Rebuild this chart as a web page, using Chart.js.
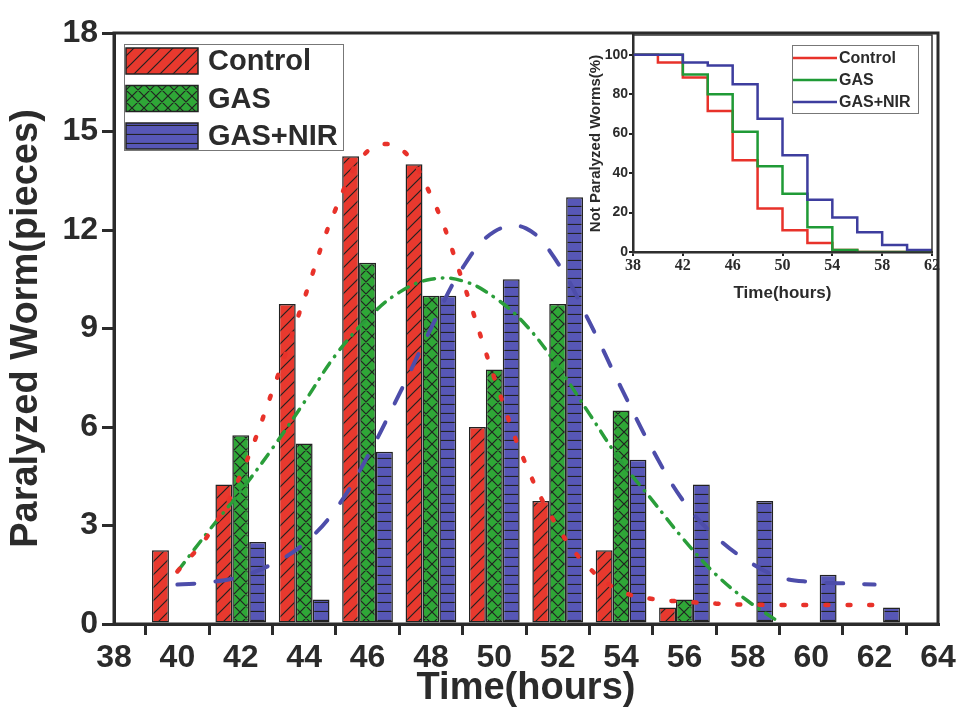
<!DOCTYPE html>
<html>
<head>
<meta charset="utf-8">
<title>Paralyzed worms</title>
<script src="https://cdn.jsdelivr.net/npm/chart.js@4.4.0/dist/chart.umd.min.js"></script>
<style>
    body { margin: 0; background: #fff; }
    #wrap { position: relative; width: 963px; height: 708px; }
    #mainChart { position: absolute; left: 0; top: 0; }
    #insetChart { position: absolute; left: 570px; top: 20px; }
</style>
</head>
<body>
<div id="wrap">
    <canvas id="mainChart" width="963" height="708"></canvas>
    <canvas id="insetChart" width="372" height="282"></canvas>
</div>
<script>
// Histogram: paralyzed worms per 2-hour bin
const hours = [40, 42, 44, 46, 48, 50, 52, 54, 56, 58, 60, 62];
const controlCounts = [2.25, 4.25, 9.75, 14.25, 14, 6, 3.75, 2.25, 0.5, 0, 0, 0];
const gasCounts = [0, 5.75, 5.5, 11, 10, 7.75, 9.75, 6.5, 0.75, 0, 0, 0];
const gasNirCounts = [0, 2.5, 0.75, 5.25, 10, 10.5, 13, 5, 4.25, 3.75, 1.5, 0.5];

// Fitted curves at each hour
const fitHours = [40, 41, 42, 43, 44, 45, 46, 47, 48, 49, 50, 51, 52, 53, 54, 55, 56, 57, 58, 59, 60, 61, 62];
const controlFit = [1.6, 2.75, 4.55, 7.1, 9.9, 12.65, 14.4, 14.5, 13.05, 10.45, 7.5, 4.85, 2.95, 1.7, 1.0, 0.76, 0.68, 0.62, 0.59, 0.58, 0.58, 0.58, 0.58];
const gasFit = [1.6, 2.85, 4.05, 5.35, 6.75, 8.2, 9.3, 10.1, 10.5, 10.45, 9.95, 9.1, 7.85, 6.4, 4.95, 3.75, 2.55, 1.5, 0.7, 0.05, null, null, null];
const gasNirFit = [1.2, 1.27, 1.45, 1.83, 2.45, 3.5, 5.1, 7.0, 9.0, 10.85, 11.95, 12.05, 11.0, 9.2, 7.2, 5.3, 3.7, 2.65, 1.92, 1.43, 1.28, 1.24, 1.2];

// Inset: not paralyzed worms (%)
const survHours = [38, 40, 42, 44, 46, 48, 50, 52, 54, 56, 58, 60, 62];
const controlSurv = [100, 96, 88.5, 71.5, 46.5, 22, 11, 4.5, 1, 0, 0, 0, 0];
const gasSurv = [100, 100, 90, 80, 61, 43.5, 29.5, 12.5, 1, 0, 0, 0, 0];
const gasNirSurv = [100, 100, 96, 94.5, 85, 67.5, 49, 26.5, 17.5, 10, 3.5, 1, 1];

const seriesNames = ['Control', 'GAS', 'GAS+NIR'];

const TEXT = '#2b2b2b';
const SANS = '"Liberation Sans", Arial, sans-serif';
Chart.defaults.font.family = SANS;
Chart.defaults.color = TEXT;

// hatch fills like the original bars
function makePattern(kind, color) {
    const size = kind === 'diag' ? 13 : (kind === 'cross' ? 12 : 9);
    const c = document.createElement('canvas');
    c.width = size;
    c.height = size;
    const g = c.getContext('2d');
    g.fillStyle = color;
    g.fillRect(0, 0, size, size);
    g.strokeStyle = '#222';
    g.lineWidth = 1.2;
    g.beginPath();
    if (kind === 'diag' || kind === 'cross') {
        g.moveTo(-1, size + 1); g.lineTo(size + 1, -1);
        g.moveTo(-1, 1); g.lineTo(1, -1);
        g.moveTo(size - 1, size + 1); g.lineTo(size + 1, size - 1);
    }
    if (kind === 'cross') {
        g.moveTo(-1, -1); g.lineTo(size + 1, size + 1);
        g.moveTo(size - 1, -1); g.lineTo(size + 1, 1);
        g.moveTo(-1, size - 1); g.lineTo(1, size + 1);
    }
    if (kind === 'horiz') {
        g.moveTo(0, size - 0.5); g.lineTo(size, size - 0.5);
    }
    g.stroke();
    return g.createPattern(c, 'repeat');
}

const redFill = makePattern('diag', '#e8392e');
const greenFill = makePattern('cross', '#2fa737');
const blueFill = makePattern('horiz', '#5757b6');

function toPoints(xs, ys, dropZero) {
    return xs.map((x, i) => ({ x: x, y: (dropZero && ys[i] === 0) ? null : ys[i] }));
}

function barSet(label, values, fill) {
    return {
        label: label,
        data: toPoints(hours, values, true),
        backgroundColor: fill,
        borderColor: '#222',
        borderWidth: 1.5,
        borderSkipped: false,
        categoryPercentage: 0.8,
        barPercentage: 1.0,
        order: 2
    };
}

function fitSet(label, values, color, dash, width) {
    return {
        type: 'line',
        label: label,
        data: toPoints(fitHours, values, false),
        borderColor: color,
        borderWidth: width,
        borderDash: dash,
        borderCapStyle: 'round',
        pointRadius: 0,
        tension: 0.4,
        fill: false,
        spanGaps: false,
        order: 1
    };
}

// thick frame round the plot area
const framePlugin = {
    id: 'frame',
    afterDraw(chart, args, opts) {
        const a = chart.chartArea;
        const ctx = chart.ctx;
        ctx.save();
        ctx.strokeStyle = opts.color || '#222';
        ctx.lineWidth = opts.width || 3;
        ctx.strokeRect(a.left, a.top, a.right - a.left, a.bottom - a.top);
        ctx.restore();
    }
};

// legend drawn inside the plot area
const boxLegendPlugin = {
    id: 'boxLegend',
    afterDraw(chart, args, o) {
        const a = chart.chartArea;
        const ctx = chart.ctx;
        const x = a.left + o.dx, y = a.top + o.dy;
        ctx.save();
        ctx.fillStyle = '#fff';
        ctx.fillRect(x, y, o.w, o.h);
        ctx.strokeStyle = '#777';
        ctx.lineWidth = 1;
        ctx.strokeRect(x + 0.5, y + 0.5, o.w, o.h);
        ctx.font = 'bold ' + o.fontSize + 'px ' + SANS;
        ctx.textBaseline = 'middle';
        o.items.forEach((it, i) => {
            const ry = y + o.firstRow + i * o.rowGap;
            if (o.swatch === 'box') {
                ctx.fillStyle = it.fill;
                ctx.fillRect(x + 2, ry - o.swH / 2, o.swW, o.swH);
                ctx.strokeStyle = '#222';
                ctx.lineWidth = 1.5;
                ctx.strokeRect(x + 2, ry - o.swH / 2, o.swW, o.swH);
            } else {
                ctx.strokeStyle = it.fill;
                ctx.lineWidth = 2.5;
                ctx.beginPath();
                ctx.moveTo(x + 1, ry);
                ctx.lineTo(x + 1 + o.swW, ry);
                ctx.stroke();
            }
            ctx.fillStyle = TEXT;
            ctx.fillText(it.label, x + o.textX, ry + 1);
        });
        ctx.restore();
    }
};

const mainChart = new Chart(document.getElementById('mainChart'), {
    type: 'bar',
    data: {
        datasets: [
            barSet(seriesNames[0], controlCounts, redFill),
            barSet(seriesNames[1], gasCounts, greenFill),
            barSet(seriesNames[2], gasNirCounts, blueFill),
            fitSet('Control fit', controlFit, '#e8322a', [3, 19], 4.5),
            fitSet('GAS fit', gasFit, '#2a9e3a', [11, 8, 0.5, 8], 3.5),
            fitSet('GAS+NIR fit', gasNirFit, '#4d4daa', [17, 21], 4)
        ]
    },
    options: {
        responsive: false,
        animation: false,
        layout: { padding: { top: 33, right: 25, left: 0, bottom: 0 } },
        plugins: {
            legend: { display: false },
            tooltip: { enabled: false },
            frame: { width: 3, color: '#2b2b2b' },
            boxLegend: {
                dx: 10, dy: 11, w: 219, h: 106,
                firstRow: 17, rowGap: 37.5,
                swatch: 'box', swW: 72, swH: 26,
                textX: 84, fontSize: 29,
                items: [
                    { label: seriesNames[0], fill: redFill },
                    { label: seriesNames[1], fill: greenFill },
                    { label: seriesNames[2], fill: blueFill }
                ]
            }
        },
        scales: {
            x: {
                type: 'linear',
                min: 38,
                max: 64,
                offset: false,
                afterFit: s => { s.height = 84; },
                ticks: {
                    stepSize: 2,
                    autoSkip: false,
                    maxRotation: 0,
                    padding: 4,
                    color: TEXT,
                    font: { size: 32, weight: 'bold' }
                },
                grid: {
                    drawOnChartArea: false,
                    tickLength: 11,
                    color: '#2b2b2b',
                    lineWidth: 3
                },
                border: { color: '#2b2b2b', width: 3 },
                title: {
                    display: true,
                    text: 'Time(hours)',
                    color: TEXT,
                    padding: { top: 0, bottom: 0 },
                    font: { size: 38, weight: 'bold', lineHeight: 1 }
                }
            },
            y: {
                min: 0,
                max: 18,
                afterFit: s => { s.width = 114; },
                ticks: {
                    stepSize: 3,
                    padding: 4,
                    color: TEXT,
                    font: { size: 32, weight: 'bold' }
                },
                grid: {
                    drawOnChartArea: false,
                    tickLength: 12,
                    color: '#2b2b2b',
                    lineWidth: 3
                },
                border: { color: '#2b2b2b', width: 3 },
                title: {
                    display: true,
                    text: 'Paralyzed Worm(pieces)',
                    color: TEXT,
                    padding: { top: 8, bottom: 0 },
                    font: { size: 38, weight: 'bold', lineHeight: 1 }
                }
            }
        }
    },
    plugins: [framePlugin, boxLegendPlugin]
});

function survSet(label, values, color, order) {
    return {
        label: label,
        data: toPoints(survHours, values, false),
        borderColor: color,
        borderWidth: 2.5,
        stepped: true,
        pointRadius: 0,
        fill: false,
        order: order
    };
}

const insetChart = new Chart(document.getElementById('insetChart'), {
    type: 'line',
    data: {
        datasets: [
            survSet(seriesNames[0], controlSurv, '#e8322a', 3),
            survSet(seriesNames[1], gasSurv, '#1f9a36', 2),
            survSet(seriesNames[2], gasNirSurv, '#3d3d9e', 1)
        ]
    },
    options: {
        responsive: false,
        animation: false,
        layout: { padding: { top: 15, right: 10, left: 0, bottom: 0 } },
        plugins: {
            legend: { display: false },
            tooltip: { enabled: false },
            frame: { width: 1.5, color: '#333' },
            boxLegend: {
                dx: 159, dy: 10, w: 126, h: 68,
                firstRow: 13, rowGap: 22,
                swatch: 'line', swW: 44,
                textX: 47, fontSize: 16,
                items: [
                    { label: seriesNames[0], fill: '#e8322a' },
                    { label: seriesNames[1], fill: '#1f9a36' },
                    { label: seriesNames[2], fill: '#3d3d9e' }
                ]
            }
        },
        scales: {
            x: {
                type: 'linear',
                min: 38,
                max: 62,
                afterFit: s => { s.height = 50; },
                ticks: {
                    stepSize: 4,
                    autoSkip: false,
                    maxRotation: 0,
                    padding: 0,
                    color: TEXT,
                    font: { family: '"Liberation Serif", "Times New Roman", serif', size: 16, weight: 'bold' }
                },
                grid: { drawOnChartArea: false, tickLength: 4, color: '#222', lineWidth: 2 },
                border: { color: '#222', width: 2.5 },
                title: {
                    display: true,
                    text: 'Time(hours)',
                    color: TEXT,
                    padding: { top: 0, bottom: 0 },
                    font: { size: 17, weight: 'bold', lineHeight: 1 }
                }
            },
            y: {
                min: 0,
                max: 110,
                afterFit: s => { s.width = 63; },
                ticks: {
                    stepSize: 10,
                    padding: 1,
                    color: TEXT,
                    font: { size: 14, weight: 'bold' },
                    callback: v => (v % 20 === 0 && v <= 100) ? v : ''
                },
                grid: { drawOnChartArea: false, tickLength: 4, color: '#222', lineWidth: 2 },
                border: { color: '#222', width: 2.5 },
                title: {
                    display: true,
                    text: 'Not Paralyzed Worms(%)',
                    color: TEXT,
                    padding: { top: 18, bottom: 0 },
                    font: { size: 15, weight: 'bold', lineHeight: 1 }
                }
            }
        }
    },
    plugins: [framePlugin, boxLegendPlugin]
});
</script>
</body>
</html>
